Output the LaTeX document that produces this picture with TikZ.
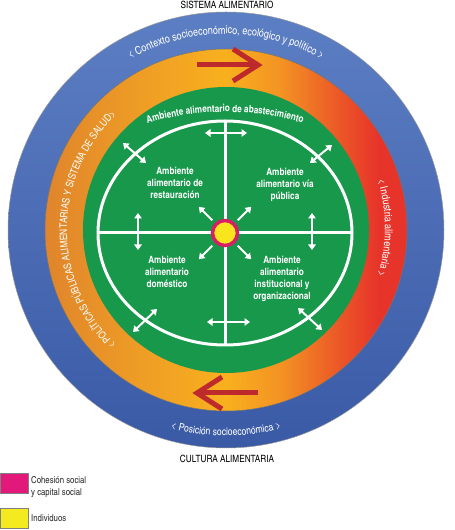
\documentclass[tikz,border=0pt]{standalone}
\usepackage{fontspec}
\newfontfamily\cn{texgyreheroscn}[Extension=.otf,UprightFont=*-regular,BoldFont=*-bold,ItalicFont=*-italic,BoldItalicFont=*-bolditalic]
\usetikzlibrary{decorations.text,arrows.meta,calc}
\definecolor{bluetop}{HTML}{5C7EC3}
\definecolor{bluebot}{HTML}{3A5AA6}
\definecolor{greenc}{HTML}{17984A}
\definecolor{arrowred}{HTML}{BE2A2C}
\definecolor{magentac}{HTML}{D81F66}
\definecolor{legmag}{HTML}{E2197A}
\definecolor{yellowc}{HTML}{F8E51E}
\definecolor{legyel}{HTML}{F3EA1F}
\definecolor{oA}{HTML}{E0852C}
\definecolor{oB}{HTML}{F0A024}
\definecolor{oC}{HTML}{F8B01E}
\definecolor{oD}{HTML}{F39323}
\definecolor{oE}{HTML}{EC5B27}
\definecolor{oF}{HTML}{E7342A}
\pgfdeclarehorizontalshading{ringshade}{100bp}{color(0bp)=(oA); color(25bp)=(oA); color(40bp)=(oB); color(50bp)=(oC); color(57.5bp)=(oD); color(65bp)=(oE); color(71bp)=(oF); color(100bp)=(oF)}
\begin{document}
\begin{tikzpicture}[x=1pt,y=1pt,
  warr/.style={white, line width=2pt, {Triangle[width=7.5pt,length=5.5pt]}-{Triangle[width=7.5pt,length=5.5pt]}},
  sarr/.style={white, line width=2pt, -{Triangle[width=7.5pt,length=5.5pt]}},
  redarr/.style={draw=arrowred, line width=5pt, line join=miter},
  wline/.style={white, line width=3pt},
  lbl/.style={text=white, font=\cn\bfseries\fontsize{10}{12}\selectfont, align=center, inner sep=0pt},
  title/.style={font=\cn\fontsize{10}{10}\selectfont, text=black, inner sep=0pt},
  legtxt/.style={font=\cn\fontsize{9.5}{12}\selectfont, text=black!85, align=left, anchor=west, inner sep=0pt},
  ringtext/.style={decorate, decoration={text along path, text align=center, text color=white, text={#1}}}
]
\useasboundingbox (0,0) rectangle (455,530);
\coordinate (C) at (226,300);
\coordinate (I) at (225,297);
% rings
\shadedraw[top color=bluetop, bottom color=bluebot, draw=black!40, line width=0.5pt] (C) circle[radius=218];
\shadedraw[shading=ringshade, draw=black!55, line width=0.5pt] (C) circle[radius=181];
\fill[greenc] (C) circle[radius=143];
% ring texts
\path[shift={(226,300)}, ringtext={|\cn\fontsize{11}{11}\selectfont|< Contexto socioeconómico, ecológico y político >}]
  (140:196) arc[start angle=140, end angle=40, radius=196];
\path[shift={(226,300)}, ringtext={|\cn\fontsize{10.5}{10.5}\selectfont|< Posición socioeconómica >}]
  (235:206) arc[start angle=235, end angle=305, radius=206];
\path[shift={(226,302)}, ringtext={|\cn\fontsize{11}{11}\selectfont|< Industria alimentaria >}]
  (35:159) arc[start angle=35, end angle=-35, radius=159];
\path[shift={(226,300)}, ringtext={|\cn\fontsize{10.3}{10.3}\selectfont|< POLÍTICAS PÚBLICAS ALIMENTARIAS Y SISTEMA DE SALUD>}]
  (245:159) arc[start angle=245, end angle=115, radius=159];
\path[shift={(225,297)}, ringtext={|\cn\bfseries\fontsize{10}{10}\selectfont|Ambiente alimentario de abastecimiento}]
  (140:185 and 121) arc[start angle=140, end angle=40, x radius=185, y radius=121];
% red arrows
\draw[redarr] (197,465) -- (256,465);
\draw[redarr] (233,481) -- (258,465) -- (233,449);
\draw[redarr] (258,137) -- (199,137);
\draw[redarr] (222,153) -- (197,137) -- (222,121);
% white structure
\draw[wline] (I) ellipse[x radius=127, y radius=112];
\draw[wline] (98,297) -- (352,297);
\draw[wline] (225,409) -- (225,185);
% double arrows
\draw[warr] (205,397) -- (247,397);
\draw[warr] (207,208) -- (250,208);
\draw[warr] (123,387) -- (146,367);
\draw[warr] (332,385) -- (310,367);
\draw[warr] (157,221) -- (133,198);
\draw[warr] (298,222) -- (322,200);
\draw[warr] (138,317) -- (138,280);
\draw[warr] (312,317) -- (312,280);
% centre arrows
\foreach \a in {45,135,225,315}
  \draw[sarr] ($(I)+(\a:18)$) -- ($(I)+(\a:37)$);
\draw[fill=yellowc, draw=magentac, line width=3.5pt] (I) circle[radius=12.5];
% labels
\node[lbl] (rest) at (175,347) {Ambiente\\alimentario de\\restauración};
\node[lbl] (via) at (285,345) {Ambiente\\alimentario vía\\pública};
\node[lbl] (dom) at (167,258) {Ambiente\\alimentario\\doméstico};
\node[lbl] (inst) at (282,251) {Ambiente\\alimentario\\institucional y\\organizacional};
\node[title] (top) at (227,525) {SISTEMA ALIMENTARIO};
\node[title] (bot) at (227,71) {CULTURA ALIMENTARIA};
% legend
\draw[fill=legmag, draw=black!50, line width=0.4pt] (0,37) rectangle (28,57);
\draw[fill=legyel, draw=black!50, line width=0.4pt] (0,2) rectangle (28,22);
\node[legtxt] (l1) at (31,43) {Cohesión social\\y capital social};
\node[legtxt] (l2) at (31,12) {Individuos};
\end{tikzpicture}
\end{document}
